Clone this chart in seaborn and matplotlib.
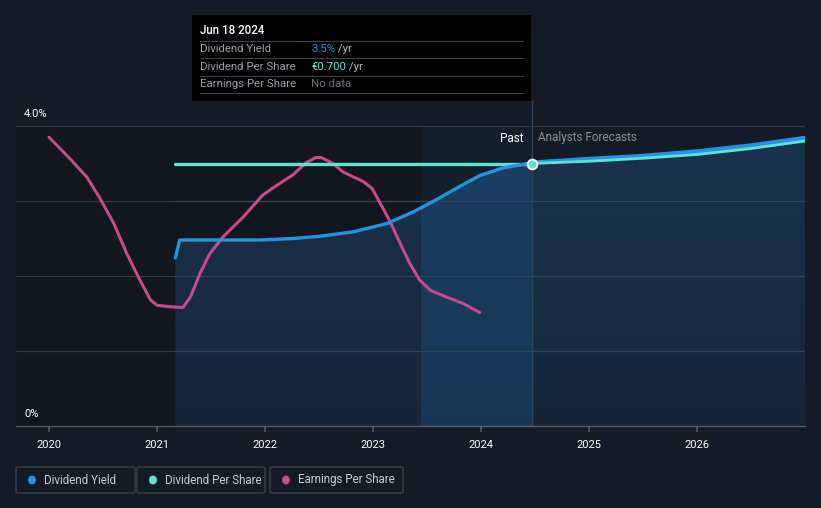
import numpy as np
import pandas as pd
import matplotlib
matplotlib.use("Agg")
import matplotlib.pyplot as plt
import seaborn as sns
from matplotlib.patches import FancyBboxPatch, Rectangle, Polygon, Ellipse
from matplotlib.colors import LinearSegmentedColormap

# ---------------- data ----------------
dy_past_x = [2021.17, 2021.21, 2021.6, 2021.95, 2022.26, 2022.51, 2022.82, 2023.13, 2023.38,
             2023.59, 2023.81, 2023.99, 2024.2, 2024.47]
dy_past_y = [2.24, 2.48, 2.48, 2.48, 2.50, 2.53, 2.59, 2.70, 2.86,
             3.02, 3.20, 3.34, 3.44, 3.51]
dy_fc_x = [2024.47, 2025.0, 2025.5, 2026.0, 2026.5, 2027.0]
dy_fc_y = [3.51, 3.56, 3.60, 3.66, 3.74, 3.84]

dps_past_x = [2021.17, 2024.47]
dps_past_y = [3.50, 3.50]
dps_fc_x = [2024.47, 2025.0, 2025.5, 2026.0, 2026.5, 2027.0]
dps_fc_y = [3.50, 3.53, 3.57, 3.62, 3.70, 3.80]

eps_x = [2020.0, 2020.19, 2020.35, 2020.47, 2020.60, 2020.72, 2020.84, 2020.94, 2021.0, 2021.12,
         2021.24, 2021.31, 2021.40, 2021.49, 2021.61, 2021.80, 2021.98, 2022.11, 2022.26, 2022.38,
         2022.47, 2022.52, 2022.63, 2022.72, 2022.82, 2022.91, 2022.99, 2023.06, 2023.16, 2023.25,
         2023.34, 2023.43, 2023.53, 2023.68, 2023.84, 2023.99]
eps_y = [3.85, 3.57, 3.32, 3.04, 2.70, 2.30, 1.95, 1.68, 1.61, 1.59,
         1.58, 1.72, 2.04, 2.30, 2.52, 2.79, 3.08, 3.21, 3.35, 3.51,
         3.58, 3.58, 3.50, 3.39, 3.32, 3.26, 3.17, 2.99, 2.72, 2.44,
         2.17, 1.95, 1.81, 1.72, 1.63, 1.51]

years = [2020, 2021, 2022, 2023, 2024, 2025, 2026]
ytick_labels = ["0%", "4.0%"]
legend_labels = ["Dividend Yield", "Dividend Per Share", "Earnings Per Share"]
tooltip_date = "Jun 18 2024"
tooltip_x = 2024.47
band_start = 2023.44

# ---------------- style ----------------
BG = "#151b26"
DARK = "#12161e"
C_DY = "#2394df"
C_DPS = "#5fe3d2"
C_EPS = "#c64a8c"
GRID = "#323845"

sns.set_theme(style="dark")
plt.rcParams["font.family"] = ["Roboto", "DejaVu Sans"]
plt.rcParams["lines.solid_joinstyle"] = "round"
plt.rcParams["lines.solid_capstyle"] = "round"

W, H = 821, 508
fig = plt.figure(figsize=(W / 100, H / 100), dpi=100, facecolor=BG)

L, R, T, B = 16, 805, 100, 426
ax = fig.add_axes([L / W, 1 - B / H, (R - L) / W, (B - T) / H])
ax.set_facecolor(BG)
x0 = 2020 - (49 - L) / 108
x1 = 2026 + (R - 697) / 108
ax.set_xlim(x0, x1)
ymax = (B - T) / 75
ax.set_ylim(0, ymax)

# background regions (only up to the 4.0% gridline)
ax.fill_between([x0, band_start], 0, 4.0, color=DARK, zorder=0, lw=0)
ax.fill_between([band_start, tooltip_x], 0, 4.0, color="#141f2d", zorder=0, lw=0)

for g in [1, 2, 3, 4]:
    ax.axhline(g, color=GRID, lw=0.9, zorder=1)

# gradient fill under dividend yield
fx = list(dy_past_x) + list(dy_fc_x[1:])
fy = list(dy_past_y) + list(dy_fc_y[1:])
grad = np.linspace(0, 1, 256).reshape(-1, 1)
cmap = LinearSegmentedColormap.from_list("g", ["#172739", "#1b3550"])
im = ax.imshow(grad, aspect="auto", cmap=cmap, origin="lower",
               extent=[fx[0], fx[-1], 0, max(fy)], zorder=1.5, alpha=0.95)
poly = Polygon(list(zip(fx, fy)) + [(fx[-1], 0), (fx[0], 0)], closed=True,
               transform=ax.transData, facecolor="none", edgecolor="none")
ax.add_patch(poly)
im.set_clip_path(poly)
band_poly_x = [x for x in fx if band_start <= x <= tooltip_x]
ax.fill_between([band_start] + band_poly_x, 0,
                np.interp([band_start] + band_poly_x, fx, fy),
                color="#1d5080", alpha=0.40, lw=0, zorder=1.6)

for g in [1, 2, 3]:
    ax.axhline(g, color="#2f4658", lw=0.9, zorder=1.7, xmin=(fx[0] - x0) / (x1 - x0))

# lines
df_eps = pd.DataFrame({"x": eps_x, "y": eps_y})
sns.lineplot(data=df_eps, x="x", y="y", color=C_EPS, lw=2.2, ax=ax, zorder=3, sort=False)
sns.lineplot(x=dps_past_x, y=dps_past_y, color=C_DPS, lw=2.4, ax=ax, zorder=4)
sns.lineplot(x=dy_past_x, y=dy_past_y, color=C_DY, lw=2.4, ax=ax, zorder=4)
sns.lineplot(x=dy_fc_x, y=dy_fc_y, color=C_DY, lw=3.2, ax=ax, zorder=4)
sns.lineplot(x=dps_fc_x, y=dps_fc_y, color=C_DPS, lw=2.0, ax=ax, zorder=5)

ax.axvline(tooltip_x, color="#2b4660", lw=1.0, zorder=2)
ax.plot([tooltip_x], [3.50], marker="o", ms=7, mfc=C_DPS, mec="white", mew=1.3, zorder=6)

ax.text(tooltip_x - 0.08, 3.84, "Past", color="white", fontsize=8.5, ha="right", va="center", zorder=7)
ax.text(tooltip_x + 0.06, 3.84, "Analysts Forecasts", color="#8a8f98", fontsize=8.5, ha="left", va="center", zorder=7)

ax.text(x0 + 8 / 108, 4.0 + 12 / 75, ytick_labels[1], color="white", fontsize=8, va="center", ha="left")
ax.text(x0 + 8 / 108, 0 + 12 / 75, ytick_labels[0], color="white", fontsize=8, va="center", ha="left")

ax.set_yticks([])
ax.set_xticks(years)
ax.set_xticklabels([str(y) for y in years], color="white", fontsize=8)
ax.tick_params(axis="x", length=4, color="#555b66", pad=6, bottom=True)
for s in ["top", "right", "left"]:
    ax.spines[s].set_visible(False)
ax.spines["bottom"].set_color("#555b66")
ax.spines["bottom"].set_linewidth(1)
ax.set_xlabel("")
ax.set_ylabel("")
ax.grid(False)

def fx_(p):
    return p / W
def fy_(p):
    return 1 - p / H

fig.patches.append(Rectangle((fx_(192), fy_(101)), (531 - 192) / W, (101 - 15) / H,
                             transform=fig.transFigure, facecolor="black", edgecolor="none", zorder=10))
fig.text(fx_(200), fy_(31), tooltip_date, color="white", fontsize=8.3, va="center", zorder=11, fontweight="medium")
rows = [("Dividend Yield", "3.5%", C_DY, " /yr"),
        ("Dividend Per Share", "€0.700", C_DPS, " /yr"),
        ("Earnings Per Share", "No data", "#6d727b", "")]
for i, (lab, val, col, suf) in enumerate(rows):
    yy = 49 + i * 17.5
    fig.text(fx_(200), fy_(yy), lab, color="#9a9ea6", fontsize=8.2, va="center", zorder=11)
    t = fig.text(fx_(311), fy_(yy), val, color=col, fontsize=8.2, va="center", zorder=11)
    if suf:
        fig.canvas.draw()
        bb = t.get_window_extent()
        fig.text(bb.x1 / W, fy_(yy), suf, color="#b8bcc4", fontsize=8.2, va="center", zorder=11)
for yy in [41, 58, 75.5, 93]:
    fig.lines.append(plt.Line2D([fx_(200), fx_(523)], [fy_(yy), fy_(yy)], transform=fig.transFigure,
                                color="#3a3f48", lw=0.8, zorder=11))

leg = [(16, 135, C_DY), (137, 265, C_DPS), (270, 403, C_EPS)]
for (a, b, col), lab in zip(leg, legend_labels):
    fig.patches.append(FancyBboxPatch((fx_(a), fy_(493)), (b - a) / W, 26 / H,
                                      boxstyle="round,pad=0,rounding_size=0.003",
                                      transform=fig.transFigure, facecolor=BG,
                                      edgecolor="#3c414b", lw=1, zorder=10))
    fig.patches.append(Ellipse((fx_(a + 16), fy_(480)), 8 / W, 9 / H,
                               transform=fig.transFigure, facecolor=col,
                               edgecolor="none", zorder=11))
    fig.text(fx_(a + 28), fy_(480), lab, color="#c8ccd2", fontsize=8.3, va="center", zorder=11)

fig.savefig("out.png", dpi=100, facecolor=BG)
